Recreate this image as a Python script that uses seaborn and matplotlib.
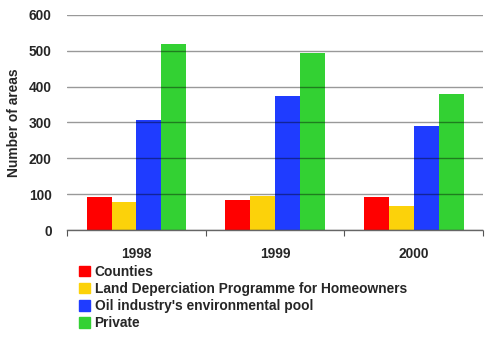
import matplotlib
matplotlib.use("Agg")
import matplotlib.pyplot as plt
import seaborn as sns
import pandas as pd

years = ["1998", "1999", "2000"]
series = [
    "Counties",
    "Land Deperciation Programme for Homeowners",
    "Oil industry's environmental pool",
    "Private",
]
counties = [93, 84, 91]
land_programme = [78, 95, 66]
oil_pool = [308, 375, 291]
private = [519, 494, 378]
colors = ["#ff0000", "#fcd20a", "#1f3cff", "#33d133"]
y_ticks = [0, 100, 200, 300, 400, 500, 600]

rows = []
for name, vals in zip(series, [counties, land_programme, oil_pool, private]):
    for yr, v in zip(years, vals):
        rows.append({"Year": yr, "Source": name, "Areas": v})
df = pd.DataFrame(rows)

sns.set_theme(style="white")
plt.rcParams["font.family"] = ["Liberation Sans", "DejaVu Sans"]
plt.rcParams["font.weight"] = "bold"

FS = 9.9

fig = plt.figure(figsize=(4.9, 3.37), dpi=100)
ax = fig.add_axes([0.137, 0.3175, 0.849, 0.6385])

sns.barplot(data=df, x="Year", y="Areas", hue="Source", order=years,
            hue_order=series, palette=colors, width=0.72, gap=0,
            linewidth=0, saturation=1, errorbar=None, ax=ax, legend=False)

ax.set_ylim(0, 600)
ax.set_xlim(-0.5, 2.5)
ax.set_yticks(y_ticks)
ax.set_yticklabels([str(t) for t in y_ticks], fontsize=FS, fontweight="bold")
ax.set_xticks(range(len(years)))
ax.set_xticklabels(years, fontsize=FS, fontweight="bold")
ax.set_xticks([-0.5, 0.5, 1.5, 2.5], minor=True)
ax.tick_params(axis="x", which="major", length=0, pad=12)
ax.tick_params(axis="x", which="minor", length=4, width=0.8, color="#555555",
               direction="out", bottom=True)
ax.tick_params(axis="y", length=0, pad=11)
ax.set_xlabel("")
ax.set_ylabel("Number of areas", fontsize=FS, fontweight="bold", labelpad=6)

ax.set_axisbelow(False)
ax.yaxis.grid(True, color="black", alpha=0.4, linewidth=1)
ax.xaxis.grid(False)
for side in ["top", "right", "left"]:
    ax.spines[side].set_visible(False)
ax.spines["bottom"].set_color("#666666")
ax.spines["bottom"].set_linestyle((0, (1, 1)))
ax.spines["bottom"].set_linewidth(1)
ax.spines["bottom"].set_zorder(5)

handles = [plt.Rectangle((0, 0), 1, 1, color=c) for c in colors]
fig.legend(handles, series, loc="upper left", bbox_to_anchor=(0.162, 0.213),
           frameon=False, prop={"weight": "bold", "size": FS},
           handlelength=0.75, handleheight=0.75, handletextpad=0.35,
           labelspacing=0.22, borderaxespad=0, borderpad=0)

fig.savefig("out.png", dpi=100)
